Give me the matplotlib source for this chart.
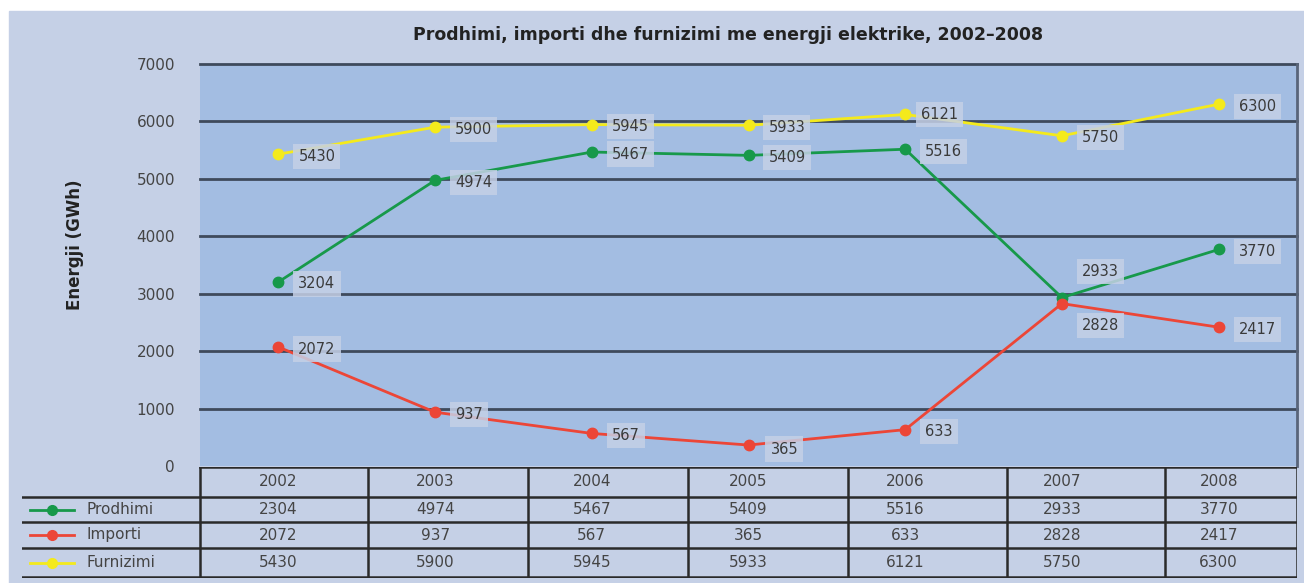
import matplotlib.pyplot as plt
from matplotlib.patches import Rectangle

years = ["2002", "2003", "2004", "2005", "2006", "2007", "2008"]
prodhimi = [3204, 4974, 5467, 5409, 5516, 2933, 3770]
importi = [2072, 937, 567, 365, 633, 2828, 2417]
furnizimi = [5430, 5900, 5945, 5933, 6121, 5750, 6300]
# values printed in the table under the chart (2002 production differs there)
tab_prodhimi = [2304, 4974, 5467, 5409, 5516, 2933, 3770]
tab_importi = importi
tab_furnizimi = furnizimi

W, H = 1304, 583
bg = "#c5d0e6"
plotbg = "#a3bde2"
grid_c = "#3e4a5c"
txt_c = "#3a3a3a"
green = "#17994a"
red = "#ec4637"
yellow = "#f4ea1c"

fig = plt.figure(figsize=(W / 100, H / 100), dpi=100)
fig.patch.set_facecolor("white")
fig.patches.append(Rectangle((9 / W, 0), 1 - 9 / W, (H - 11) / H,
                             transform=fig.transFigure, color=bg, zorder=-10))

ax = fig.add_axes([200 / W, (H - 466) / H, 1097 / W, 402 / H])
ax.set_facecolor(plotbg)
x = list(range(len(years)))
ax.set_xlim(-0.5, len(years) - 0.5)
ax.set_ylim(0, 7000)
ax.set_yticks(range(0, 7001, 1000))
ax.set_xticks([])
ax.tick_params(axis="y", length=0, labelsize=11, labelcolor="#444444", pad=18)
for s in ["top", "left", "bottom"]:
    ax.spines[s].set_visible(False)
ax.spines["right"].set_color("#59657a")
ax.spines["right"].set_linewidth(2)
for v in range(1000, 7001, 1000):
    ax.axhline(v, color=grid_c, lw=2, zorder=1, clip_on=False)

for vals, col in [(furnizimi, yellow), (prodhimi, green), (importi, red)]:
    ax.plot(x, vals, color=col, lw=2, marker="o", ms=7.5, zorder=3)

box = dict(boxstyle="square,pad=0.35", fc=bg, ec="none", alpha=0.85)

def label(vals, offsets):
    for i, v in enumerate(vals):
        dx, dy = offsets.get(i, (20, -2))
        ax.annotate(str(v), (i, v), xytext=(dx, dy), textcoords="offset pixels",
                    ha="left", va="center", fontsize=10.5, color=txt_c,
                    bbox=box, zorder=4)

label(furnizimi, {4: (16, 0)})
label(prodhimi, {5: (20, 26), 1: (20, -2)})
label(importi, {5: (20, -22), 3: (22, -4), 1: (20, -2)})

fig.text(728 / W, 1 - 35 / H,
         "Prodhimi, importi dhe furnizimi me energji elektrike, 2002\u20132008",
         ha="center", va="center", fontsize=12.5, fontweight="bold", color="#222222")
fig.text(75 / W, 1 - 245 / H, "Energji (GWh)", rotation=90, ha="center",
         va="center", fontsize=12, fontweight="bold", color="#222222")

# table
tx = fig.add_axes([22 / W, (H - 578) / H, (1297 - 22) / W, 111 / H])
tx.set_xlim(22, 1297)
tx.set_ylim(578, 467)
tx.axis("off")
bounds = [200, 368, 528, 688, 848, 1007, 1165, 1297]
rows_y = [467, 497, 522, 548, 577]
tc = "#2a2a2a"
tx.plot([200, 1297], [rows_y[0]] * 2, color=tc, lw=1.8)
for yy in rows_y[1:]:
    tx.plot([22, 1297], [yy, yy], color=tc, lw=1.8)
for b in bounds:
    tx.plot([b, b], [rows_y[0], rows_y[-1]], color=tc, lw=1.8)

centers = [200 + (i + 0.5) * 1097 / len(years) for i in range(len(years))]
for c, yr in zip(centers, years):
    tx.text(c, (rows_y[0] + rows_y[1]) / 2, yr, ha="center", va="center",
            fontsize=11, color="#444444")

series = [("Prodhimi", green, tab_prodhimi), ("Importi", red, tab_importi),
          ("Furnizimi", yellow, tab_furnizimi)]
for r, (name, col, vals) in enumerate(series):
    yc = (rows_y[r + 1] + rows_y[r + 2]) / 2
    tx.plot([30, 74], [yc, yc], color=col, lw=2)
    tx.plot([52], [yc], marker="o", color=col, ms=7)
    tx.text(86, yc, name, ha="left", va="center", fontsize=11, color="#444444")
    for c, v in zip(centers, vals):
        tx.text(c, yc, str(v), ha="center", va="center", fontsize=11,
                color="#444444")

fig.savefig("out.png", dpi=100, facecolor=fig.get_facecolor())
